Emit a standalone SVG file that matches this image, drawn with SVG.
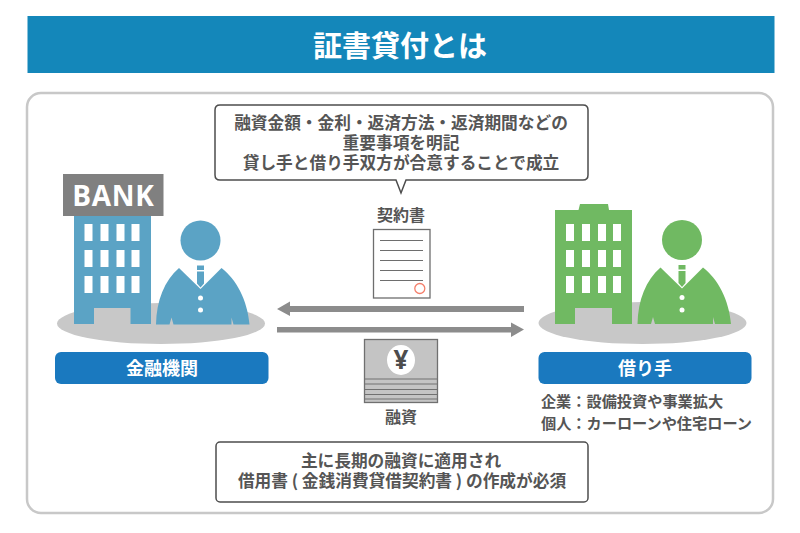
<svg xmlns="http://www.w3.org/2000/svg" width="800" height="533" viewBox="0 0 800 533">
<style>
text{font-family:"Noto Sans CJK JP","Noto Sans",sans-serif;text-anchor:middle;font-weight:700;fill:#555}
.w{fill:#fff}
.b{font-size:16.700px}
.l{font-size:15.200px}
.c{font-size:16px}
.box{fill:#fff;stroke:#4d4d4d;stroke-width:1.5}
.win{fill:#fff}
.pad{fill:#c8c8c8}
.bl{fill:#5ba3c5}
.gr{fill:#70b962}
.lab{fill:#1a79bf}
.ln{stroke:#6e6e6e;stroke-width:1}
.st{fill:#8c8c8c}
</style>
<defs>
<g id="wins">
<rect x="0" y="0" width="8" height="17"/><rect x="16" y="0" width="8" height="17"/><rect x="32" y="0" width="8" height="17"/><rect x="47" y="0" width="8" height="17"/>
<rect x="0" y="26" width="8" height="17"/><rect x="16" y="26" width="8" height="17"/><rect x="32" y="26" width="8" height="17"/><rect x="47" y="26" width="8" height="17"/>
<rect x="0" y="52" width="8" height="17"/><rect x="16" y="52" width="8" height="17"/><rect x="32" y="52" width="8" height="17"/><rect x="47" y="52" width="8" height="17"/>
</g>
<g id="person">
<circle cx="0" cy="0" r="20"/>
<path d="M-21.500 27.500L-1 47.500L0 48.500L1 47.500L21 27.500C36 39 47 60 49 84L33 84L31 77L31 84L-27 84L-29 77L-31 84L-44.500 84C-44 60 -36 40 -21.500 27.500Z"/>
<path d="M-3.500 25H3.500V29.500H-3.500ZM-3.500 31H3.500V43L0 47L-3.500 43Z"/>
</g>
</defs>
<rect width="800" height="533" fill="#fff"/>
<g id="title"><rect x="27.500" y="16" width="747" height="57" fill="#1487ba"/><text x="400" y="57" class="w" style="font-size:29px">証書貸付とは</text></g>
<rect id="frame" x="27" y="93" width="746" height="420" rx="14" fill="#fff" stroke="#c8c8c8" stroke-width="2.500"/>
<g id="callout-top">
<path class="box" d="M220 105H583Q588 105 588 110V175Q588 180 583 180H406L401 193L396 180H220Q215 180 215 175V110Q215 105 220 105Z"/>
<text class="b"><tspan x="401" y="129">融資金額・金利・返済方法・返済期間などの</tspan><tspan x="401" y="149">重要事項を明記</tspan><tspan x="401" y="169">貸し手と借り手双方が合意することで成立</tspan></text>
</g>
<g id="bank">
<ellipse cx="161" cy="323.500" rx="104" ry="20.500" class="pad"/>
<path class="bl" d="M74 215H151V324H130.500V308H94V324H74Z"/>
<use href="#wins" x="84.500" y="224" class="win"/>
<rect x="63" y="174" width="100.500" height="42" fill="#808080"/>
<text x="113.500" y="206" class="w" style="font-size:28px;letter-spacing:.7px;font-family:'Open Sans','Noto Sans',sans-serif">BANK</text>
<use href="#person" x="200.500" y="240.500" class="bl"/>
<g fill="#fff"><circle cx="200.500" cy="298" r="2.500"/><circle cx="200.500" cy="310" r="2.500"/></g>
</g>
<g id="borrower">
<ellipse cx="642.500" cy="323" rx="104" ry="21" class="pad"/>
<path class="gr" d="M555 210H578.500L580 204H608L609 210H632V324H612V308H575V324H555Z"/>
<use href="#wins" x="566" y="224" class="win"/>
<use href="#person" x="682" y="240" class="gr"/>
<g fill="#fff"><circle cx="682" cy="297.500" r="2.500"/><circle cx="682" cy="310" r="2.500"/></g>
</g>
<g id="label-bank"><rect x="55" y="352" width="213.500" height="32" rx="6" class="lab"/><text x="162" y="374.500" class="w" style="font-size:18px">金融機関</text></g>
<g id="label-borrower"><rect x="538.500" y="352" width="213" height="32" rx="6" class="lab"/><text x="645" y="374.500" class="w" style="font-size:18px">借り手</text></g>
<g id="borrower-note">
<text class="l"><tspan x="632" y="407">企業：設備投資や事業拡大</tspan><tspan x="646.500" y="429">個人：カーローンや住宅ローン</tspan></text>
</g>
<g id="contract">
<text x="401" y="221" class="c">契約書</text>
<rect x="373.500" y="229.500" width="56.500" height="68.500" fill="#fff" stroke="#6e6e6e" stroke-width="1.300"/>
<g class="ln"><path d="M380 240.500H423M380 250.500H423M380 260.500H423M380 270.500H423M380 280.500H423"/></g>
<circle cx="419.800" cy="288.500" r="5" fill="#fff" stroke="#f47f6b" stroke-width="1.300"/>
</g>
<g id="connectors">
<path d="M524 306H290V301.500L277 309L290 316V312H524Z" class="st"/>
<path d="M277 327H511V322.500L524 329.500L511 337V332.500H277Z" class="st"/>
</g>
<g id="money">
<rect x="364.500" y="339.500" width="73" height="63" fill="#c4c4c4" stroke="#707070" stroke-width="1.300"/>
<path d="M365 379H437M365 384H437M365 389.500H437M365 394.500H437M365 399H437" stroke="#707070" stroke-width="1"/>
<ellipse cx="401" cy="360" rx="14" ry="15" fill="#fff"/>
<text x="401" y="369" style="font-size:26px;font-family:'Open Sans',sans-serif;fill:#4d4d4d">¥</text>
<text x="401" y="423" class="c">融資</text>
</g>
<g id="callout-bottom">
<rect x="216" y="442" width="372" height="60" rx="4" class="box"/>
<text class="b"><tspan x="401" y="467">主に長期の融資に適用され</tspan><tspan x="402" y="487">借用書 ( 金銭消費貸借契約書 ) の作成が必須</tspan></text>
</g>
</svg>
